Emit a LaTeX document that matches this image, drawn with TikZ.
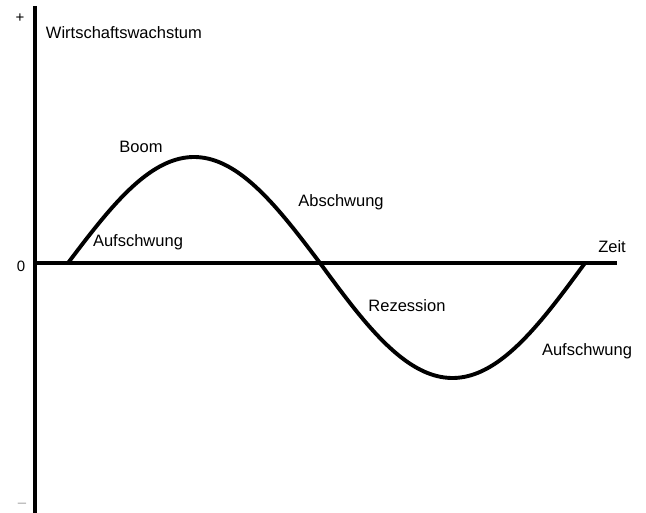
\documentclass[tikz,border=0pt]{standalone}
\usepackage{fontspec}
\setmainfont{Liberation Sans}
\usetikzlibrary{calc}

\begin{document}
\begin{tikzpicture}[x=1pt, y=-1pt, line width=3.9pt]
  % Bildgroesse 646 x 513, y nach unten
  \useasboundingbox (0,0) rectangle (646,513);
  \tikzset{lbl/.style={font=\fontsize{16.5}{19}\selectfont, inner sep=0pt},
           tick/.style={font=\fontsize{15}{17}\selectfont, inner sep=0pt}}

  % Achsen
  \coordinate (O)   at (35,263);
  \coordinate (Top) at (35,6);
  \coordinate (Bot) at (35,513);
  \coordinate (E)   at (617,263);
  \draw (Top) -- (Bot);
  \draw (O) -- (E);

  % Konjunkturwelle: Hoch bei x=196, Tief bei x=452
  \draw[line join=round]
    plot[domain=68:320, samples=80] (\x, {263-106*sin((\x-68)/252*180)})
    -- plot[domain=320:585, samples=80] (\x, {263+115*sin((\x-320)/265*180)});

  \node[tick] (plus)  at (20,18)  {+};
  \node[tick] (null)  at (21,266) {0};
  \node[tick, text=black!35] (minus) at (22,505) {\textendash};

  \node[lbl, anchor=west] (wachstum) at (44,33) {Wirtschaftswachstum};
  \node[lbl] (zeit)  at (612,247) {Zeit};
  \node[lbl] (boom)  at (141,147) {Boom};
  \node[lbl] (auf1)  at (138,242) {Aufschwung};
  \node[lbl] (ab)    at (341,202) {Abschwung};
  \node[lbl] (rez)   at (407,306) {Rezession};
  \node[lbl] (auf2)  at (587,351) {Aufschwung};
\end{tikzpicture}
\end{document}
